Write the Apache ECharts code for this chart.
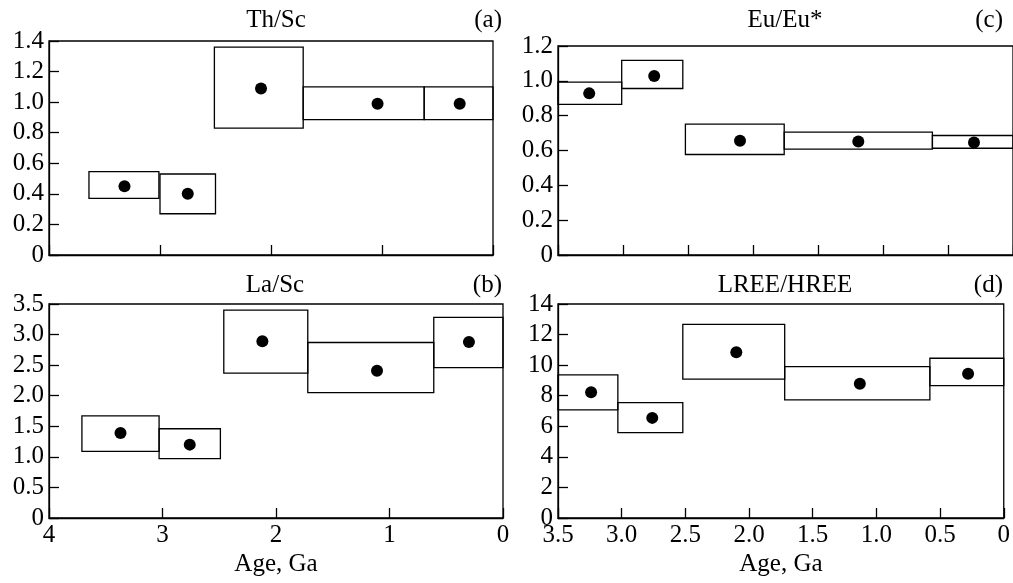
<!DOCTYPE html>
<html>
<head>
<meta charset="utf-8">
<script src="https://cdn.jsdelivr.net/npm/echarts@6/dist/echarts.min.js"></script>
<style>
  html, body { margin: 0; padding: 0; background: #fff; }
  #main { width: 1013px; height: 583px; }
</style>
</head>
<body>
<div id="main"></div>
<script>
// (a) Th/Sc : box = age interval x value range, dot = mean
var thScAgeFrom = [3.64, 3.00, 2.51, 1.71, 0.62];
var thScAgeTo   = [3.01, 2.50, 1.71, 0.62, 0.00];
var thScLow     = [0.37, 0.27, 0.83, 0.885, 0.885];
var thScHigh    = [0.545, 0.53, 1.36, 1.10, 1.10];
var thScDotAge  = [3.32, 2.75, 2.09, 1.04, 0.30];
var thScDot     = [0.45, 0.40, 1.09, 0.99, 0.99];

// (b) La/Sc
var laScAgeFrom = [3.71, 3.03, 2.46, 1.72, 0.61];
var laScAgeTo   = [3.03, 2.49, 1.72, 0.61, 0.00];
var laScLow     = [1.09, 0.97, 2.37, 2.05, 2.46];
var laScHigh    = [1.67, 1.46, 3.40, 2.87, 3.28];
var laScDotAge  = [3.37, 2.76, 2.12, 1.11, 0.30];
var laScDot     = [1.39, 1.20, 2.89, 2.41, 2.88];

// (c) Eu/Eu*
var euAgeFrom = [3.50, 3.01, 2.52, 1.76, 0.62];
var euAgeTo   = [3.01, 2.54, 1.76, 0.62, 0.00];
var euLow     = [0.865, 0.956, 0.577, 0.608, 0.613];
var euHigh    = [0.993, 1.117, 0.752, 0.706, 0.686];
var euDotAge  = [3.26, 2.76, 2.10, 1.19, 0.30];
var euDot     = [0.928, 1.028, 0.656, 0.652, 0.646];

// (d) LREE/HREE
var reeAgeFrom = [3.50, 3.03, 2.52, 1.72, 0.58];
var reeAgeTo   = [3.03, 2.52, 1.72, 0.58, 0.00];
var reeLow     = [7.07, 5.59, 9.08, 7.73, 8.66];
var reeHigh    = [9.36, 7.55, 12.67, 9.90, 10.45];
var reeDotAge  = [3.24, 2.76, 2.10, 1.13, 0.28];
var reeDot     = [8.23, 6.55, 10.84, 8.79, 9.44];

var font = 'Liberation Serif';
var fs = 25;

var chartDom = document.getElementById('main');
var myChart = echarts.init(chartDom);

function boxes(from, to, low, high) {
  var out = [];
  for (var i = 0; i < from.length; i++) out.push([from[i], to[i], low[i], high[i]]);
  return out;
}
function dots(ages, vals) {
  var out = [];
  for (var i = 0; i < ages.length; i++) out.push([ages[i], vals[i]]);
  return out;
}
function fmt(v) { return v === 0 ? '0' : v.toFixed(1); }
function fmtInt(v) { return String(v); }

function renderBox(params, api) {
  var p1 = api.coord([api.value(0), api.value(3)]);
  var p2 = api.coord([api.value(1), api.value(2)]);
  return {
    type: 'rect',
    shape: {
      x: Math.min(p1[0], p2[0]),
      y: Math.min(p1[1], p2[1]),
      width: Math.abs(p2[0] - p1[0]),
      height: Math.abs(p2[1] - p1[1])
    },
    style: { fill: 'none', stroke: '#000', lineWidth: 1.3 }
  };
}

function xAx(idx, max, interval, labels, formatter) {
  return {
    type: 'value', gridIndex: idx, inverse: true, min: 0, max: max, interval: interval,
    position: 'bottom',
    axisLine: { onZero: false, lineStyle: { color: '#000', width: 1.3 } },
    axisTick: { inside: true, length: 10, lineStyle: { color: '#000', width: 1.3 } },
    splitLine: { show: false },
    axisLabel: { show: labels, color: '#000', fontFamily: font, fontSize: fs, margin: 5,
      showMinLabel: true, showMaxLabel: true, formatter: formatter },
    name: labels ? 'Age, Ga' : '',
    nameLocation: 'middle', nameGap: 34,
    nameTextStyle: { color: '#000', fontFamily: font, fontSize: fs }
  };
}
function yAx(idx, max, interval, formatter) {
  return {
    type: 'value', gridIndex: idx, min: 0, max: max, interval: interval,
    position: 'left',
    axisLine: { onZero: false, lineStyle: { color: '#000', width: 1.3 } },
    axisTick: { inside: true, length: 10, lineStyle: { color: '#000', width: 1.3 } },
    splitLine: { show: false },
    axisLabel: { color: '#000', fontFamily: font, fontSize: fs, margin: 5, formatter: formatter }
  };
}
function label(text, x, y, align) {
  return {
    type: 'text', x: x, y: y,
    style: { text: text, font: fs + 'px "' + font + '"', fill: '#000',
      textAlign: align, align: align, textVerticalAlign: 'middle', verticalAlign: 'middle' }
  };
}

var gridBase = { show: true, borderColor: '#000', borderWidth: 1.3, backgroundColor: 'transparent' };

var option = {
  animation: false,
  backgroundColor: '#fff',
  grid: [
    Object.assign({ left: 49, top: 41, width: 444, height: 214 }, gridBase),
    Object.assign({ left: 49, top: 304, width: 454, height: 214 }, gridBase),
    Object.assign({ left: 558, top: 46, width: 458, height: 209 }, gridBase),
    Object.assign({ left: 558, top: 304, width: 446, height: 214 }, gridBase)
  ],
  xAxis: [
    xAx(0, 4, 1, false, fmtInt),
    xAx(1, 4, 1, true, fmtInt),
    xAx(2, 3.5, 0.5, false, fmt),
    xAx(3, 3.5, 0.5, true, fmt)
  ],
  yAxis: [
    yAx(0, 1.4, 0.2, fmt),
    yAx(1, 3.5, 0.5, fmt),
    yAx(2, 1.2, 0.2, fmt),
    yAx(3, 14, 2, fmtInt)
  ],
  graphic: [
    label('Th/Sc', 276, 20, 'center'),
    label('(a)', 502, 20, 'right'),
    label('La/Sc', 275, 285, 'center'),
    label('(b)', 502, 285, 'right'),
    label('Eu/Eu*', 785, 20, 'center'),
    label('(c)', 1003, 20, 'right'),
    label('LREE/HREE', 785, 285, 'center'),
    label('(d)', 1003, 285, 'right')
  ],
  series: []
};

var sets = [
  [thScAgeFrom, thScAgeTo, thScLow, thScHigh, thScDotAge, thScDot],
  [laScAgeFrom, laScAgeTo, laScLow, laScHigh, laScDotAge, laScDot],
  [euAgeFrom, euAgeTo, euLow, euHigh, euDotAge, euDot],
  [reeAgeFrom, reeAgeTo, reeLow, reeHigh, reeDotAge, reeDot]
];
sets.forEach(function (s, i) {
  option.series.push({
    type: 'custom', xAxisIndex: i, yAxisIndex: i,
    renderItem: renderBox,
    encode: { x: [0, 1], y: [2, 3] },
    data: boxes(s[0], s[1], s[2], s[3]),
    silent: true
  });
  option.series.push({
    type: 'scatter', xAxisIndex: i, yAxisIndex: i,
    symbol: 'circle', symbolSize: 12,
    itemStyle: { color: '#000', opacity: 1 },
    data: dots(s[4], s[5]),
    silent: true
  });
});

option && myChart.setOption(option);
</script>
</body>
</html>
